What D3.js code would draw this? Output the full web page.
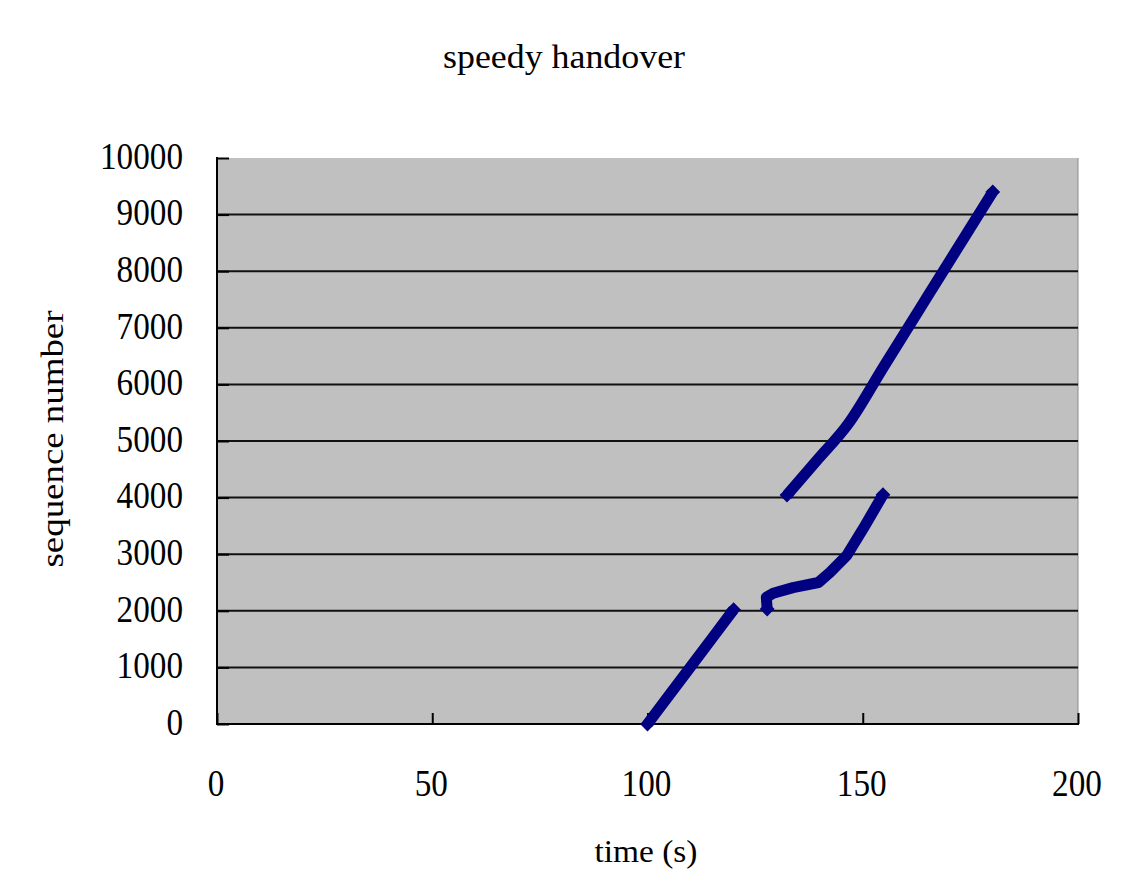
<!DOCTYPE html>
<html>
<head>
<meta charset="utf-8">
<script src="https://cdn.jsdelivr.net/npm/d3@7"></script>
<style>
  html, body { margin: 0; padding: 0; background: #fff; }
  svg { display: block; }
  text { font-family: "Liberation Serif", "DejaVu Serif", serif; fill: #000; }
</style>
</head>
<body>
<svg id="chart" width="1125" height="895"></svg>
<script>
// Sequence numbers received over time during a speedy handover
const xTicks = [0, 50, 100, 150, 200];
const yTicks = [0, 1000, 2000, 3000, 4000, 5000, 6000, 7000, 8000, 9000, 10000];

// first flow, before handover
const flowA_time = [100, 110, 120];
const flowA_seq  = [0, 1010, 2020];

// flow resumed after handover
const flowB_time = [127.8, 127.6, 129.2, 133.8, 139.7, 142.4, 146.3, 150.1, 154.7];
const flowB_seq  = [2030, 2240, 2310, 2410, 2500, 2680, 2980, 3450, 4050];

// second flow
const flowC_time = [132.4, 139.5, 146.6, 155, 165, 180.2];
const flowC_seq  = [4045, 4670, 5300, 6330, 7550, 9400];

const series = [
  flowA_time.map((t, i) => [t, flowA_seq[i]]),
  flowB_time.map((t, i) => [t, flowB_seq[i]]),
  flowC_time.map((t, i) => [t, flowC_seq[i]])
];

const svg = d3.select("#chart");
const plot = { left: 217, right: 1078, top: 158, bottom: 724 };

const x = d3.scaleLinear().domain([0, 200]).range([plot.left, plot.right]);
const y = d3.scaleLinear().domain([0, 10000]).range([plot.bottom, plot.top]);

// plot area background
svg.append("rect")
  .attr("x", plot.left).attr("y", plot.top)
  .attr("width", plot.right - plot.left).attr("height", plot.bottom - plot.top)
  .attr("fill", "#c0c0c0");

// right edge of plot area
svg.append("line")
  .attr("x1", plot.right).attr("x2", plot.right)
  .attr("y1", plot.top).attr("y2", plot.bottom)
  .attr("stroke", "#8c8c8c").attr("stroke-width", 1);

// horizontal gridlines
svg.append("g").selectAll("line")
  .data(yTicks.filter(v => v > 0 && v < 10000))
  .join("line")
  .attr("x1", plot.left).attr("x2", plot.right)
  .attr("y1", d => y(d)).attr("y2", d => y(d))
  .attr("stroke", "#111").attr("stroke-width", 2);

// y axis with inside ticks
const yAxis = svg.append("g")
  .attr("transform", `translate(${plot.left},0)`)
  .call(d3.axisRight(y).tickValues(yTicks).tickSize(12).tickFormat(""));
yAxis.select(".domain").remove();
yAxis.selectAll(".tick line").attr("stroke", "#000").attr("stroke-width", 2);
svg.append("line")
  .attr("x1", plot.left).attr("x2", plot.left)
  .attr("y1", plot.top - 1).attr("y2", plot.bottom + 1)
  .attr("stroke", "#000").attr("stroke-width", 2);

// y tick labels
svg.append("g").selectAll("text")
  .data(yTicks)
  .join("text")
  .attr("x", 183)
  .attr("y", d => y(d) + 2)
  .attr("text-anchor", "end")
  .attr("dominant-baseline", "middle")
  .attr("font-size", 38)
  .attr("textLength", d => String(d).length * 16.6)
  .attr("lengthAdjust", "spacingAndGlyphs")
  .text(d => d);

// x axis with inside ticks
const xAxis = svg.append("g")
  .attr("transform", `translate(0,${plot.bottom})`)
  .call(d3.axisTop(x).tickValues(xTicks).tickSize(11).tickFormat(""));
xAxis.select(".domain").remove();
xAxis.selectAll(".tick line").attr("stroke", "#000").attr("stroke-width", 2);
svg.append("line")
  .attr("x1", plot.left - 1).attr("x2", plot.right + 1)
  .attr("y1", plot.bottom).attr("y2", plot.bottom)
  .attr("stroke", "#000").attr("stroke-width", 2);

// x tick labels
svg.append("g").selectAll("text")
  .data(xTicks)
  .join("text")
  .attr("x", d => x(d) - 1)
  .attr("y", 787)
  .attr("text-anchor", "middle")
  .attr("dominant-baseline", "middle")
  .attr("font-size", 38)
  .attr("textLength", d => String(d).length * 16.6)
  .attr("lengthAdjust", "spacingAndGlyphs")
  .text(d => d);

// data lines
const line = d3.line().x(d => x(d[0])).y(d => y(d[1])).curve(d3.curveMonotoneX);
const linePlain = d3.line().x(d => x(d[0])).y(d => y(d[1]));
svg.append("g").selectAll("path")
  .data(series)
  .join("path")
  .attr("d", (d, i) => i === 1 ? linePlain(d) : line(d))
  .attr("fill", "none")
  .attr("stroke", "#000080")
  .attr("stroke-width", 11)
  .attr("stroke-linejoin", "round");

// diamond markers at the ends of each trace
const diamond = d3.symbol().type(d3.symbolSquare).size(110);
svg.append("g").selectAll("path")
  .data(series.flatMap(s => [s[0], s[s.length - 1]]))
  .join("path")
  .attr("d", diamond)
  .attr("transform", d => `translate(${x(d[0])},${y(d[1])}) rotate(45)`)
  .attr("fill", "#000080");

// title
svg.append("text")
  .attr("x", 564).attr("y", 60)
  .attr("text-anchor", "middle")
  .attr("dominant-baseline", "middle")
  .attr("font-size", 34)
  .attr("textLength", 242)
  .attr("lengthAdjust", "spacingAndGlyphs")
  .text("speedy handover");

// axis titles
svg.append("text")
  .attr("x", 646).attr("y", 855)
  .attr("text-anchor", "middle")
  .attr("dominant-baseline", "middle")
  .attr("font-size", 32)
  .attr("textLength", 103)
  .attr("lengthAdjust", "spacingAndGlyphs")
  .text("time (s)");

svg.append("text")
  .attr("transform", "translate(56,439) rotate(-90)")
  .attr("text-anchor", "middle")
  .attr("dominant-baseline", "middle")
  .attr("font-size", 32)
  .attr("textLength", 257)
  .attr("lengthAdjust", "spacingAndGlyphs")
  .text("sequence number");
</script>
</body>
</html>
